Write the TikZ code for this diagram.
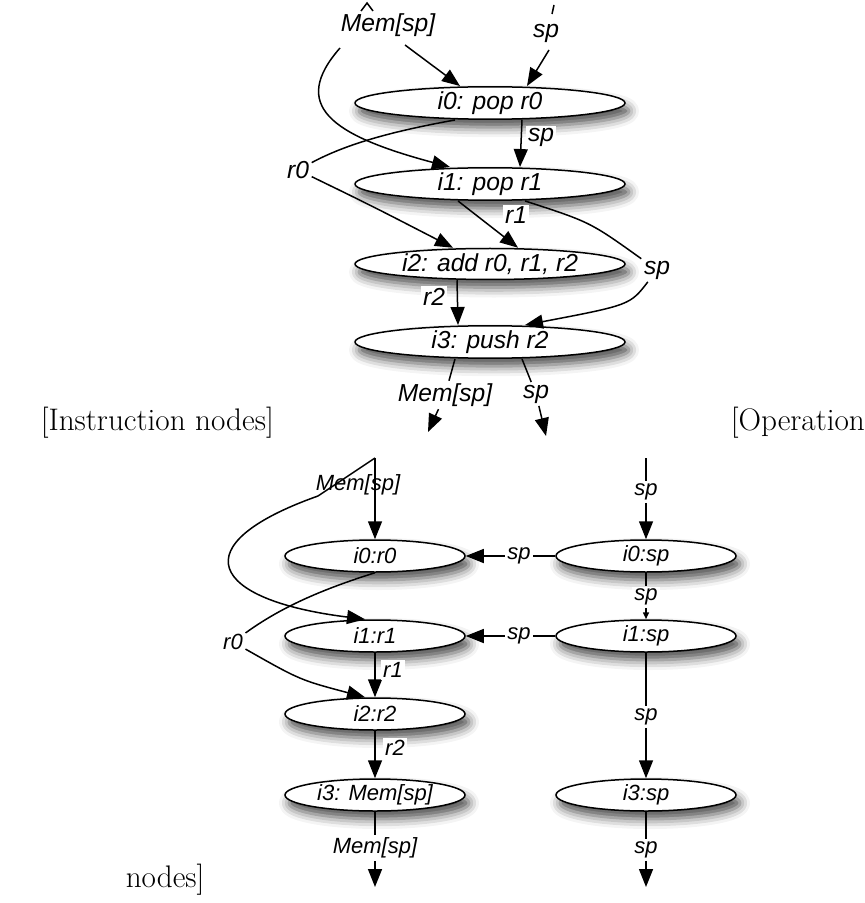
\documentclass[tikz,border=0pt]{standalone}
\usepackage{fontspec}
\newfontfamily\diafont{Liberation Sans}
\usepackage{tikz}
\usetikzlibrary{shapes.geometric,arrows.meta,calc,shadows.blur}

\begin{document}
\begin{tikzpicture}
  [x=0.5pt,y=-0.5pt,line width=0.75pt,>={Triangle[length=9pt,width=7pt]},
   instr/.style={ellipse,draw,fill=white,inner sep=0pt,minimum width=135pt,minimum height=15.5pt,
     blur shadow={shadow xshift=2pt,shadow yshift=-4pt,shadow blur radius=5pt,shadow opacity=70},
     font=\diafont\itshape\fontsize{12.3}{14}\selectfont},
   oper/.style={instr,minimum width=90pt,minimum height=16pt,font=\diafont\itshape\fontsize{11}{13}\selectfont},
   lbl/.style={inner sep=1pt,font=\diafont\itshape\fontsize{12.3}{14}\selectfont},
   lbls/.style={inner sep=1pt,font=\diafont\itshape\fontsize{11}{13}\selectfont},
   capt/.style={anchor=west,inner sep=0pt,font=\fontsize{15.6}{18}\selectfont}]
  \useasboundingbox (0,0) rectangle (865,903);

  % instruction nodes
  \node[instr] (i0) at (490,103) {i0: pop r0};
  \node[instr] (i1) at (490,184) {i1: pop r1};
  \node[instr] (i2) at (490,264) {i2: add r0, r1, r2};
  \node[instr] (i3) at (490,342) {i3: push r2};

  \coordinate (memtop) at (367,3);
  \coordinate (memtl) at (361,11);
  \coordinate (memtr) at (373,11);
  \coordinate (memL) at (340,48);
  \coordinate (memR) at (405,45);
  \coordinate (sptop) at (554,5);
  \coordinate (spst) at (552,14);
  \coordinate (spL) at (549,50);
  \node[lbl] (mem) at (388,25) {Mem[sp]};
  \node[lbl] (spin) at (546,33) {sp};
  \node[lbl,fill=white] (spa) at (541,137) {sp};
  \node[lbl] (r0) at (298,170) {r0};
  \node[lbl,fill=white] (r1) at (516,215) {r1};
  \node[lbl] (sp1) at (657,270) {sp};
  \node[lbl,fill=white] (r2) at (434,297) {r2};
  \node[lbl] (memout) at (445,395) {Mem[sp]};
  \node[lbl] (spout) at (536,394) {sp};
  \coordinate (memend) at (428,432);
  \coordinate (spend) at (546,436);

  \draw (memtl) -- (memtop) -- (memtr);
  \draw (sptop) -- (spst);
  \draw[->] (memR) -- ($(i0.north)+(-30,0)$);
  \draw[->] (spL) -- ($(i0.north)+(37,0)$);
  \draw[->] (memL) .. controls (290,105) and (330,135) .. ($(i1.north)+(-40,0)$);
  \draw[->] ($(i0.south)+(32,0)$) -- ($(i1.north)+(30,0)$);
  \draw ($(i0.south)+(-35,0)$) .. controls (400,130) and (350,142) .. (r0);
  \draw[->] (r0) .. controls (370,205) .. ($(i2.north)+(-37,0)$);
  \draw[->] ($(i1.south)+(-32,0)$) -- ($(i2.north)+(28,0)$);
  \draw ($(i1.south)+(35,0)$) .. controls (590,222) .. (sp1);
  \draw[->] (sp1) .. controls (630,305) .. ($(i3.north)+(35,0)$);
  \draw[->] ($(i2.south)+(-33,0)$) -- ($(i3.north)+(-32,0)$);
  \draw ($(i3.south)+(-35,0)$) -- (memout);
  \draw[->] (memout) -- (memend);
  \draw ($(i3.south)+(32,0)$) -- (spout);
  \draw[->] (spout) -- (spend);

  \node[capt] (capl) at (40,423) {[Instruction nodes]};
  \node[capt] (capr) at (730,423) {[Operation};
  \node[capt] (capn) at (125,880) {nodes]};

  % operation nodes
  \node[oper] (o0) at (375,556) {i0:r0};
  \node[oper] (o1) at (375,636) {i1:r1};
  \node[oper] (o2) at (375,714) {i2:r2};
  \node[oper] (o3) at (375,795) {i3: Mem[sp]};
  \node[oper] (p0) at (646,556) {i0:sp};
  \node[oper] (p1) at (646,636) {i1:sp};
  \node[oper] (p3) at (646,795) {i3:sp};

  \coordinate (memtop2) at (375,458);
  \coordinate (m2L) at (318,496);
  \coordinate (m2D) at (375,501);
  \node[lbls] (mem2) at (358,485) {Mem[sp]};
  \node[lbls] (r0b) at (233,642) {r0};
  \node[lbls,fill=white] (r1b) at (393,670) {r1};
  \node[lbls,fill=white] (r2b) at (395,748) {r2};
  \node[lbls] (memout2) at (375,848) {Mem[sp]};
  \node[lbls] (spin2) at (646,492) {sp};
  \node[lbls,fill=white] (sp01) at (646,597) {sp};
  \node[lbls] (sp13) at (646,717) {sp};
  \node[lbls] (spout2) at (646,850) {sp};
  \node[lbls] (spa2) at (519,556) {sp};
  \node[lbls] (spb2) at (519,636) {sp};
  \coordinate (sptop2) at (646,458);
  \coordinate (memend2) at (375,887);
  \coordinate (spend2) at (646,887);

  \draw (memtop2) -- (m2L);
  \draw (memtop2) -- (m2D);
  \draw[->] (m2D) -- (o0);
  \draw[->] (m2L) .. controls (180,545) and (210,600) .. ($(o1.north)+(-10,0)$);
  \draw (o0.south) .. controls (320,590) and (280,608) .. (r0b);
  \draw[->] (r0b) .. controls (300,680) .. ($(o2.north)+(-10,0)$);
  \draw[->] (o1) -- (o2);
  \draw[->] (o2) -- (o3);
  \draw (o3) -- (memout2);
  \draw[->] (memout2) -- (memend2);

  \draw (sptop2) -- (spin2);
  \draw[->] (spin2) -- (p0);
  \draw (p0) -- (sp01);
  \draw[-{Triangle[length=3.5pt,width=3pt]}] (sp01) -- (p1);
  \draw (p1) -- (sp13);
  \draw[->] (sp13) -- (p3);
  \draw (p3) -- (spout2);
  \draw[->] (spout2) -- (spend2);
  \draw (p0) -- (spa2);
  \draw[->] (spa2) -- (o0);
  \draw (p1) -- (spb2);
  \draw[->] (spb2) -- (o1);

  % labels drawn over edges
  \node[lbl,fill=white] at (r1) {r1};
  \node[lbl,fill=white] at (r2) {r2};
  \node[lbls,fill=white] at (r1b) {r1};
  \node[lbls,fill=white] at (r2b) {r2};
  \node[lbl,fill=white] at (spa) {sp};
\end{tikzpicture}
\end{document}
